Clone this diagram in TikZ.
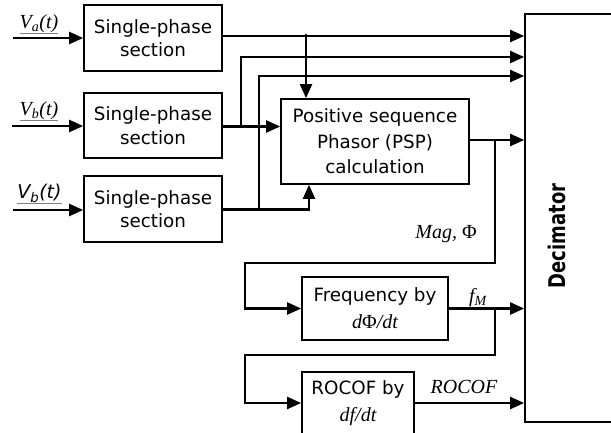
\documentclass[tikz,border=0pt]{standalone}
\usepackage{fontspec}
\setmainfont{DejaVu Sans}
\newfontfamily\tmsfont{Liberation Serif}
\newfontfamily\decfont[FakeStretch=0.78]{DejaVu Sans}
\usetikzlibrary{arrows.meta}
\tikzset{
  blk/.style={draw, line width=1.7pt, inner sep=0pt, align=center,
    font=\fontsize{18.3}{23.5}\selectfont},
  conn/.style={line width=2.3pt},
  arr/.style={conn, -{Triangle[length=14pt,width=12pt]}},
  tlab/.style={font=\fontsize{20}{22}\selectfont\tmsfont\itshape,
    inner sep=0pt, anchor=base},
  uline/.style={line width=0.7pt, black!50},
}
\begin{document}
\begin{tikzpicture}[x=1pt,y=-1pt]
\useasboundingbox (0,0) rectangle (611,432);
\clip (0,0) rectangle (611,432);

% blocks
\node[blk, minimum width=138pt, minimum height=66pt] (b1) at (153,38) {Single-phase\\section};
\node[blk, minimum width=138pt, minimum height=65pt] (b2) at (153,125.5) {Single-phase\\section};
\node[blk, minimum width=138pt, minimum height=66pt] (b3) at (153,209) {Single-phase\\section};
\node[blk, minimum width=188pt, minimum height=85pt,
      font=\fontsize{18.3}{25.5}\selectfont] (psp) at (375,141.5)
  {Positive sequence\\Phasor (PSP)\\calculation};
\node[blk, minimum width=146pt, minimum height=63pt,
      font=\fontsize{18.3}{27}\selectfont] (freq) at (375,308.5)
  {Frequency by\\{\tmsfont\fontsize{20}{22}\selectfont\itshape d\upshape Φ\itshape/dt}};
\node[blk, minimum width=112pt, minimum height=62pt,
      font=\fontsize{18.3}{27}\selectfont] (rocof) at (358,403)
  {ROCOF by\\{\tmsfont\fontsize{20}{22}\selectfont\itshape df/dt}};
\node[draw, line width=1.7pt, minimum width=200pt, minimum height=408pt] (dec) at (625,218) {};
\node[font=\decfont\bfseries\fontsize{23}{23}\selectfont, rotate=90] (dectxt) at (557,236) {Decimator};

% input signals
\coordinate (in1) at (13,38);
\coordinate (in2) at (12,126);
\coordinate (in3) at (13,210);
\draw[arr] (in1) -- (in1 -| b1.west);
\draw[arr] (in2) -- (in2 -| b2.west);
\draw[arr] (in3) -- (in3 -| b3.west);

\node[tlab] (la) at (39,28.5) {V\textsubscript{a}(t)};
\node[tlab] (lb) at (39,115.5) {V\textsubscript{b}(t)};
\node[anchor=base, inner sep=0pt, font=\fontsize{19}{21}\selectfont\itshape] (lc) at (39.5,198.5) {V\textsubscript{b}(t)};
\draw[uline] ([yshift=-5pt]la.base west) -- ([yshift=-5pt]la.base east);
\draw[uline] ([yshift=-5pt]lb.base west) -- ([yshift=-5pt]lb.base east);
\draw[uline] ([yshift=-5pt]lc.base west) -- ([yshift=-5pt]lc.base east);

% rows and junctions
\coordinate (r1) at (0,36);
\coordinate (r2) at (0,57);
\coordinate (r3) at (0,76);
\coordinate (r4) at (0,140);
\coordinate (j1) at (306,34);
\coordinate (j2) at (241,126.5);
\coordinate (j3) at (259,209.5);
\coordinate (k3) at (309,209.5);
\coordinate (j4) at (495,140);
\coordinate (m1) at (495,263);
\coordinate (m2) at (245,263);
\coordinate (j5) at (495,308.5);
\coordinate (m3) at (495,355);
\coordinate (m4) at (245,355);

% phase A
\draw[arr] (b1.east |- r1) -- (dec.west |- r1);
\draw[arr] (j1) -- (j1 |- psp.north);
% phase B
\draw[arr] (b2.east |- j2) -- (psp.west |- j2);
\draw[arr] (j2) |- (dec.west |- r2);
% phase C
\draw[arr] (b3.east |- j3) -- (k3) -- (k3 |- psp.south);
\draw[arr] (j3) |- (dec.west |- r3);
% phasor output
\draw[arr] (psp.east |- r4) -- (dec.west |- r4);
\draw[arr] (j4) -- (m1) -- (m2) |- (freq.west);
% frequency output
\draw[arr] (freq.east) -- (dec.west |- freq.east);
\draw[arr] (j5) -- (m3) -- (m4) |- (rocof.west);
% ROCOF output
\draw[arr] (rocof.east) -- (dec.west |- rocof.east);

\node[tlab] (mag) at (446,238) {Mag, {\upshape Φ}};
\node[tlab] (fm) at (478,302) {f\textsubscript{M}};
\node[tlab] (rl) at (464,393) {ROCOF};
\end{tikzpicture}
\end{document}
